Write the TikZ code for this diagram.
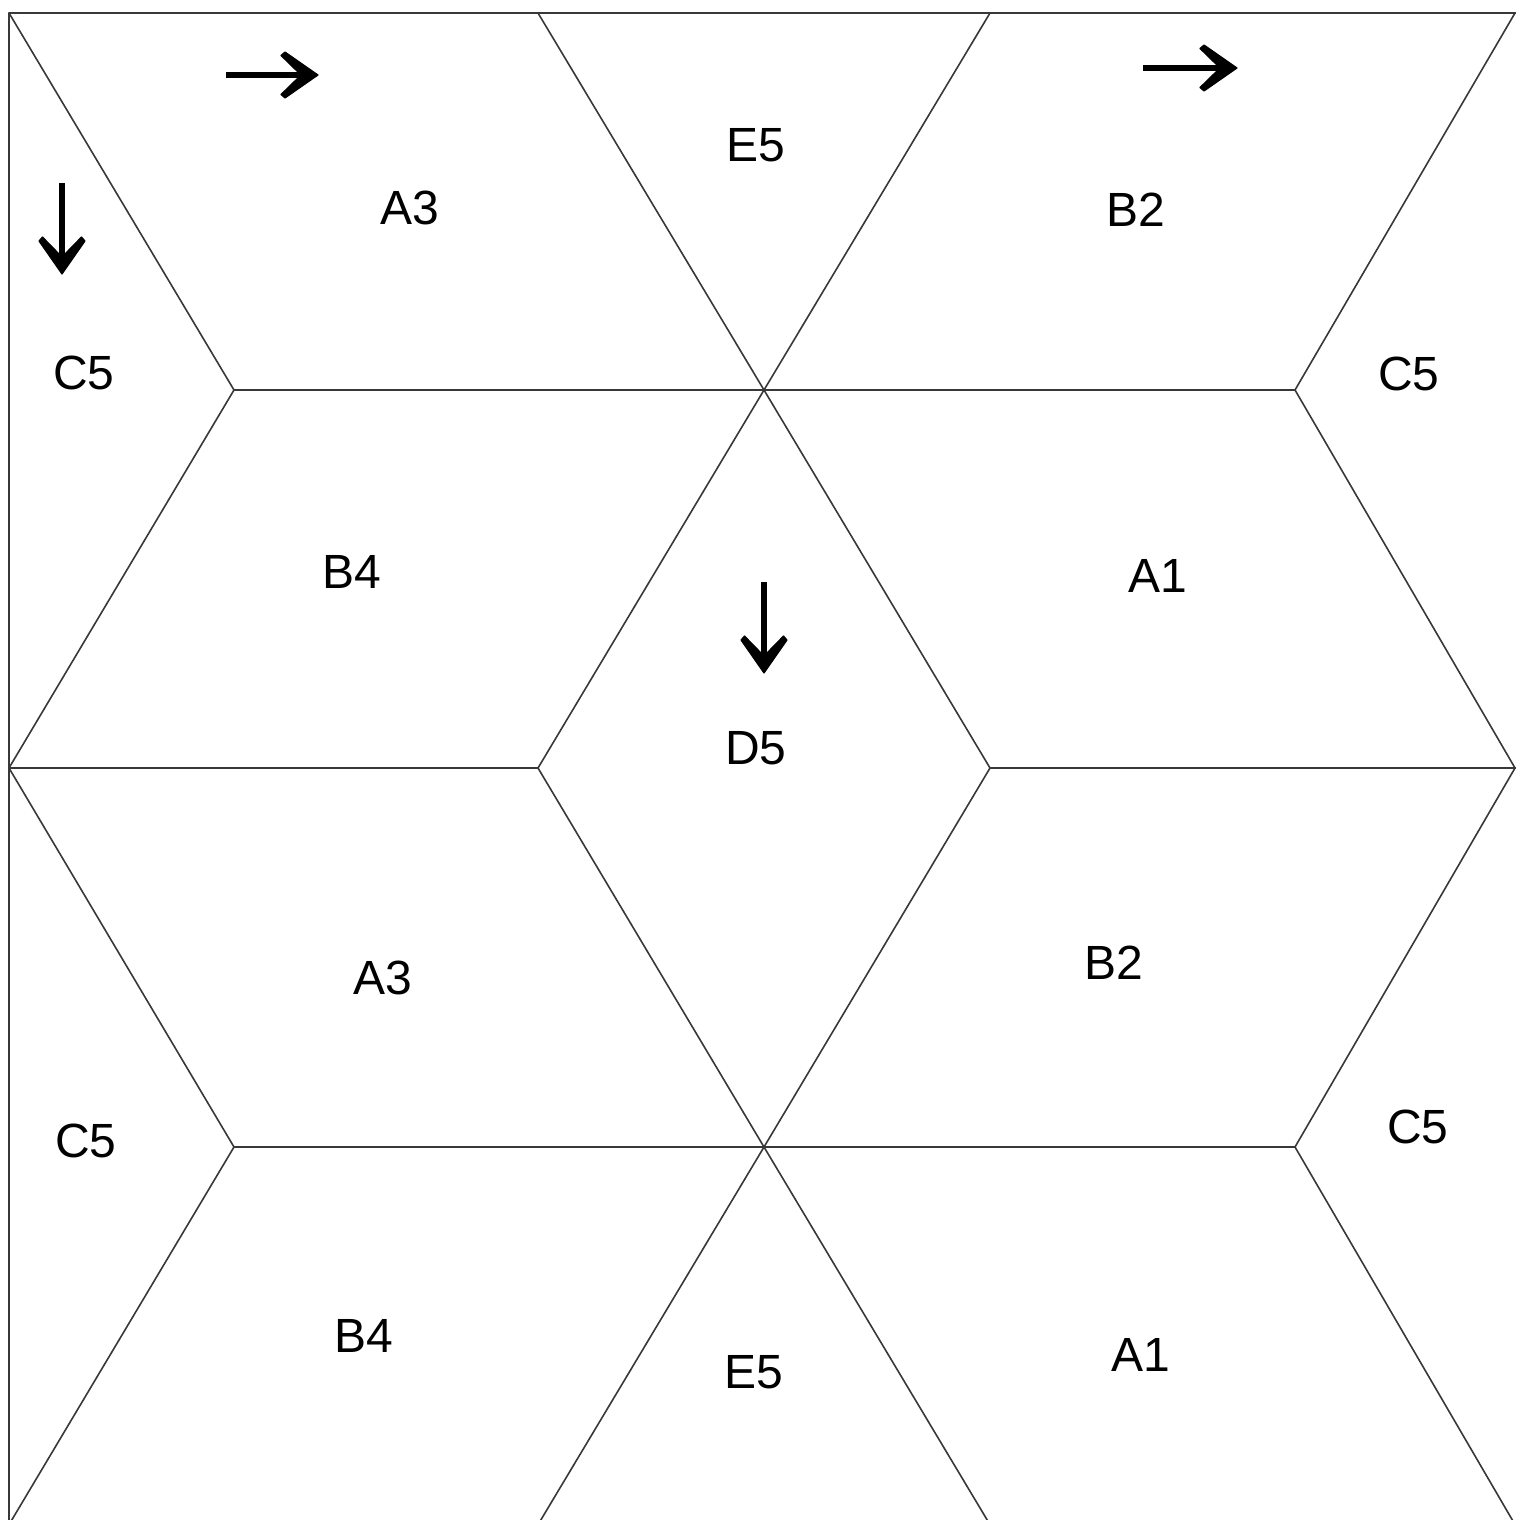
\documentclass[tikz,border=0pt]{standalone}
\usepackage{fontspec}
\setmainfont{Liberation Sans}
\tikzset{
  edge/.style={draw=black!78, line width=1.6pt, line join=round},
  lbl/.style={font=\fontsize{48}{50}\selectfont, text=black, inner sep=0pt},
  stem/.style={draw=black, line width=6pt},
  ahead/.pic={\fill[draw=black, line width=1.2pt, line join=round]
     (0,0) -- (-33,-23) -- (-37,-19.5) -- (-17,0) -- (-37,19.5) -- (-33,23) -- cycle;}
}
\begin{document}
\begin{tikzpicture}[x=1pt,y=-1pt]
\useasboundingbox (0,0) rectangle (1515,1520);
% corner / vertex coordinates
\coordinate (tl) at (9,13);
\coordinate (tr) at (1518,13);
\coordinate (bl) at (9,1525);
\coordinate (t1) at (538,13);
\coordinate (t2) at (990,13);
\coordinate (t3) at (1515,13);
\coordinate (l1) at (234,390);
\coordinate (c1) at (764,390);
\coordinate (r1) at (1295,390);
\coordinate (l2) at (9,768);
\coordinate (m1) at (538,768);
\coordinate (m2) at (990,768);
\coordinate (r2) at (1518,768);
\coordinate (r2b) at (1515,768);
\coordinate (l3) at (234,1147);
\coordinate (c3) at (764,1147);
\coordinate (r3) at (1295,1147);
\coordinate (b0) at (7,1528);
\coordinate (b1) at (536,1528);
\coordinate (b2) at (992,1528);
\coordinate (b3) at (1517,1528);
% frame
\draw[edge] (bl) -- (tl) -- (tr);
% left zigzag
\draw[edge] (tl) -- (l1) -- (l2) -- (l3) -- (b0);
% right zigzag
\draw[edge] (t3) -- (r1) -- (r2b) -- (r3) -- (b3);
% central star at c1
\draw[edge] (t1) -- (c1) -- (t2);
\draw[edge] (m1) -- (c1) -- (m2);
% central star at c3
\draw[edge] (m1) -- (c3) -- (m2);
\draw[edge] (b1) -- (c3) -- (b2);
% horizontals
\draw[edge] (l1) -- (r1);
\draw[edge] (l2) -- (m1);
\draw[edge] (m2) -- (r2);
\draw[edge] (l3) -- (r3);
% labels
\node[lbl] (a3t) at (410,208) {A3};
\node[lbl] (e5t) at (756,145) {E5};
\node[lbl] (b2t) at (1136,210) {B2};
\node[lbl] (c5a) at (84,373) {C5};
\node[lbl] (c5b) at (1409,374) {C5};
\node[lbl] (b4t) at (352,572) {B4};
\node[lbl] (a1t) at (1158,576) {A1};
\node[lbl] (d5) at (756,748) {D5};
\node[lbl] (a3b) at (383,978) {A3};
\node[lbl] (b2b) at (1114,963) {B2};
\node[lbl] (c5c) at (86,1141) {C5};
\node[lbl] (c5d) at (1418,1127) {C5};
\node[lbl] (b4b) at (364,1336) {B4};
\node[lbl] (e5b) at (754,1372) {E5};
\node[lbl] (a1b) at (1141,1355) {A1};
% arrows
\coordinate (ar1s) at (226,75);
\coordinate (ar1n) at (305,75);
\coordinate (ar1e) at (318,75);
\coordinate (ar2s) at (1143,68);
\coordinate (ar2n) at (1224,68);
\coordinate (ar2e) at (1237,68);
\coordinate (ad1s) at (62,183);
\coordinate (ad1n) at (62,261);
\coordinate (ad1e) at (62,274);
\coordinate (ad2s) at (764,582);
\coordinate (ad2n) at (764,660);
\coordinate (ad2e) at (764,673);
\draw[stem] (ar1s) -- (ar1n);
\draw[stem] (ar2s) -- (ar2n);
\draw[stem] (ad1s) -- (ad1n);
\draw[stem] (ad2s) -- (ad2n);
\pic at (ar1e) {ahead};
\pic at (ar2e) {ahead};
\pic[rotate=-90] at (ad1e) {ahead};
\pic[rotate=-90] at (ad2e) {ahead};
\end{tikzpicture}
\end{document}
